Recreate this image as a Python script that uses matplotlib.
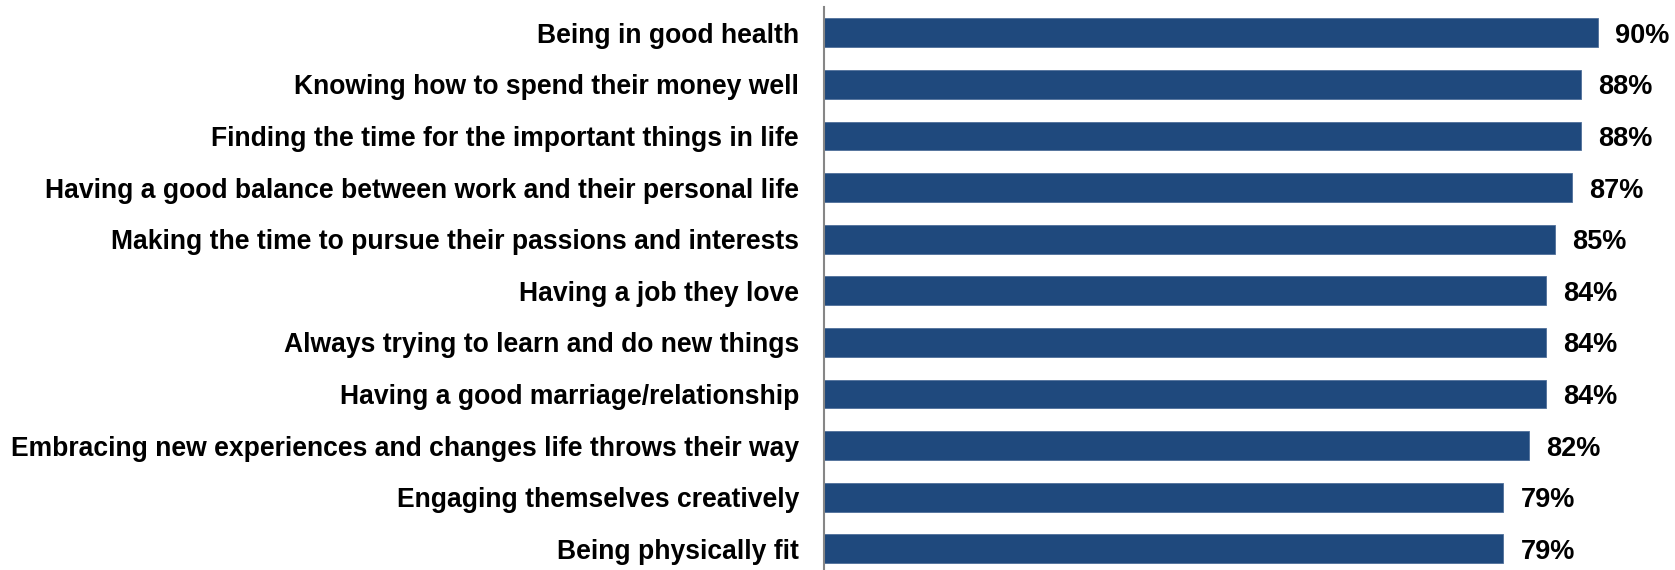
import matplotlib
matplotlib.use('Agg')
import matplotlib.pyplot as plt

# Data
labels = [
    'Being in good health',
    'Knowing how to spend their money well',
    'Finding the time for the important things in life',
    'Having a good balance between work and their personal life',
    'Making the time to pursue their passions and interests',
    'Having a job they love',
    'Always trying to learn and do new things',
    'Having a good marriage/relationship',
    'Embracing new experiences and changes life throws their way',
    'Engaging themselves creatively',
    'Being physically fit',
]
values = [90, 88, 88, 87, 85, 84, 84, 84, 82, 79, 79]

plt.rcParams['font.family'] = ['Liberation Sans', 'DejaVu Sans']

W, H = 1675, 570
fig = plt.figure(figsize=(W / 100, H / 100), dpi=100)
pitch = 51.6
top = 7
ax = fig.add_axes([824 / W, 1 - (top + 11 * pitch) / H, (W - 824) / W, 11 * pitch / H])

y = list(range(len(labels)))
ax.barh(y, values, height=0.56, color='#1F497D', edgecolor='#4F6F9A', linewidth=0.6)
ax.set_ylim(len(labels) - 0.5, -0.5)
ax.set_xlim(0, (W - 824) / 8.6)

for yi, v in zip(y, values):
    ax.text(v + 2.0, yi, f'{v}%', va='center_baseline', ha='left',
            fontsize=19.5, fontweight='bold')

ax.set_yticks(y)
ax.set_yticklabels(labels, fontsize=19.1, fontweight='bold')
ax.tick_params(axis='y', length=0, pad=18)
ax.set_xticks([])
for s in ['top', 'right', 'bottom']:
    ax.spines[s].set_visible(False)
ax.spines['left'].set_color('#868686')
ax.spines['left'].set_linewidth(1.5)

fig.savefig('out.png', dpi=100)
